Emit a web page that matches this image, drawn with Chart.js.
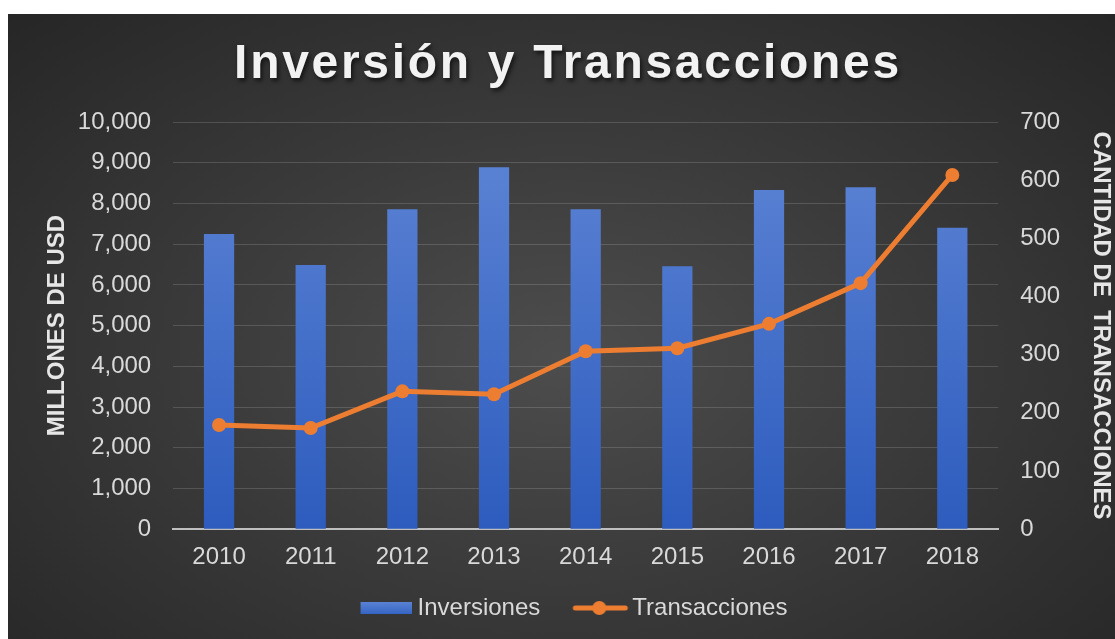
<!DOCTYPE html>
<html>
<head>
<meta charset="utf-8">
<script src="https://cdn.jsdelivr.net/npm/chart.js@4"></script>
<style>
    body { margin: 0; background: #ffffff; }
    #wrap {
        position: absolute; left: 8px; top: 14px; width: 1107px; height: 625px;
        background: radial-gradient(ellipse at 50% 55%, #4d4d4d 0%, #3b3b3b 45%, #262626 100%);
    }
</style>
</head>
<body>
<div id="wrap"><canvas id="chart"></canvas></div>
<script>
const years = ['2010', '2011', '2012', '2013', '2014', '2015', '2016', '2017', '2018'];
const inversiones = [7250, 6490, 7860, 8890, 7860, 6460, 8330, 8400, 7400];
const transacciones = [179, 174, 237, 232, 306, 311, 353, 423, 609];
const chartTitle = 'Inversión y Transacciones';

const tickColor = '#d9d9d9';
const gridColor = 'rgba(255,255,255,0.15)';
const fontFamily = 'Liberation Sans';

// gradiente de las barras (claro arriba, oscuro abajo)
function barGradient(context) {
    const area = context.chart.chartArea;
    if (!area) return '#4472c4';
    const g = context.chart.ctx.createLinearGradient(0, area.top, 0, area.bottom);
    g.addColorStop(0, '#5f86d6');
    g.addColorStop(1, '#2d5cbe');
    return g;
}

// iconos de la leyenda (con margen transparente a la izquierda)
function makeBarIcon() {
    const c = document.createElement('canvas');
    c.width = 82; c.height = 12;
    const x = c.getContext('2d');
    const g = x.createLinearGradient(0, 0, 0, 12);
    g.addColorStop(0, '#5a82d4');
    g.addColorStop(1, '#3565c4');
    x.fillStyle = g;
    x.fillRect(31, 0, 51, 12);
    return c;
}

function makeLineIcon() {
    const c = document.createElement('canvas');
    c.width = 88; c.height = 16;
    const x = c.getContext('2d');
    x.strokeStyle = '#ed7d31';
    x.lineWidth = 5;
    x.lineCap = 'round';
    x.beginPath();
    x.moveTo(34, 8);
    x.lineTo(84, 8);
    x.stroke();
    x.fillStyle = '#ed7d31';
    x.beginPath();
    x.arc(58, 8, 7, 0, Math.PI * 2);
    x.fill();
    return c;
}

const barIcon = makeBarIcon();
const lineIcon = makeLineIcon();

// título con espaciado y sombra
const titlePlugin = {
    id: 'customTitle',
    afterDraw(chart) {
        const c = chart.ctx;
        c.save();
        c.font = 'bold 48px "' + fontFamily + '"';
        c.letterSpacing = '2.7px';
        c.textAlign = 'center';
        c.textBaseline = 'alphabetic';
        c.shadowColor = 'rgba(0,0,0,0.6)';
        c.shadowBlur = 4;
        c.shadowOffsetX = 2;
        c.shadowOffsetY = 3;
        c.fillStyle = '#f2f2f2';
        c.fillText(chartTitle, 560, 64);
        c.restore();
    }
};

const ctx = document.getElementById('chart').getContext('2d');
new Chart(ctx, {
    data: {
        labels: years,
        datasets: [{
            type: 'line',
            label: 'Transacciones',
            data: transacciones,
            yAxisID: 'y1',
            borderColor: '#ed7d31',
            backgroundColor: '#ed7d31',
            borderWidth: 5,
            pointRadius: 7,
            pointHoverRadius: 7,
            pointBorderWidth: 0,
            tension: 0,
            order: 0
        }, {
            type: 'bar',
            label: 'Inversiones',
            data: inversiones,
            yAxisID: 'y',
            backgroundColor: barGradient,
            barPercentage: 0.33,
            categoryPercentage: 1,
            order: 1
        }]
    },
    options: {
        responsive: true,
        maintainAspectRatio: false,
        animation: false,
        layout: { padding: { left: 0, right: 0, top: 108, bottom: 9 } },
        plugins: {
            title: { display: false },
            legend: {
                position: 'bottom',
                reverse: true,
                labels: {
                    color: tickColor,
                    font: { family: fontFamily, size: 24 },
                    usePointStyle: true,
                    pointStyleWidth: 70,
                    boxHeight: 16,
                    padding: 10,
                    generateLabels: function (chart) {
                        const items = Chart.defaults.plugins.legend.labels.generateLabels(chart);
                        items.forEach(function (item) {
                            const ds = chart.data.datasets[item.datasetIndex];
                            item.pointStyle = ds.type === 'bar' ? barIcon : lineIcon;
                        });
                        return items;
                    }
                }
            },
            tooltip: { enabled: false }
        },
        scales: {
            x: {
                grid: { display: false, drawTicks: false },
                border: { color: '#bfbfbf', width: 2 },
                ticks: {
                    color: tickColor,
                    font: { family: fontFamily, size: 24 },
                    padding: 14
                }
            },
            y: {
                position: 'left',
                min: 0,
                max: 10000,
                ticks: {
                    stepSize: 1000,
                    color: tickColor,
                    font: { family: fontFamily, size: 24 },
                    padding: 22,
                    callback: function (value) {
                        return value.toLocaleString('en-US');
                    }
                },
                grid: { color: gridColor, drawTicks: false },
                border: { display: false },
                title: {
                    display: true,
                    text: 'MILLONES DE USD',
                    color: '#e6e6e6',
                    font: { family: fontFamily, size: 24, weight: 'bold' },
                    padding: { top: 35, bottom: -16 }
                }
            },
            y1: {
                position: 'right',
                min: 0,
                max: 700,
                ticks: {
                    stepSize: 100,
                    color: tickColor,
                    font: { family: fontFamily, size: 24 },
                    padding: 22
                },
                grid: { display: false, drawTicks: false },
                border: { display: false },
                title: {
                    display: true,
                    text: 'CANTIDAD DE  TRANSACCIONES',
                    color: '#e6e6e6',
                    font: { family: fontFamily, size: 24, weight: 'bold' },
                    padding: { top: 0, bottom: 4 }
                }
            }
        }
    },
    plugins: [titlePlugin]
});
</script>
</body>
</html>
